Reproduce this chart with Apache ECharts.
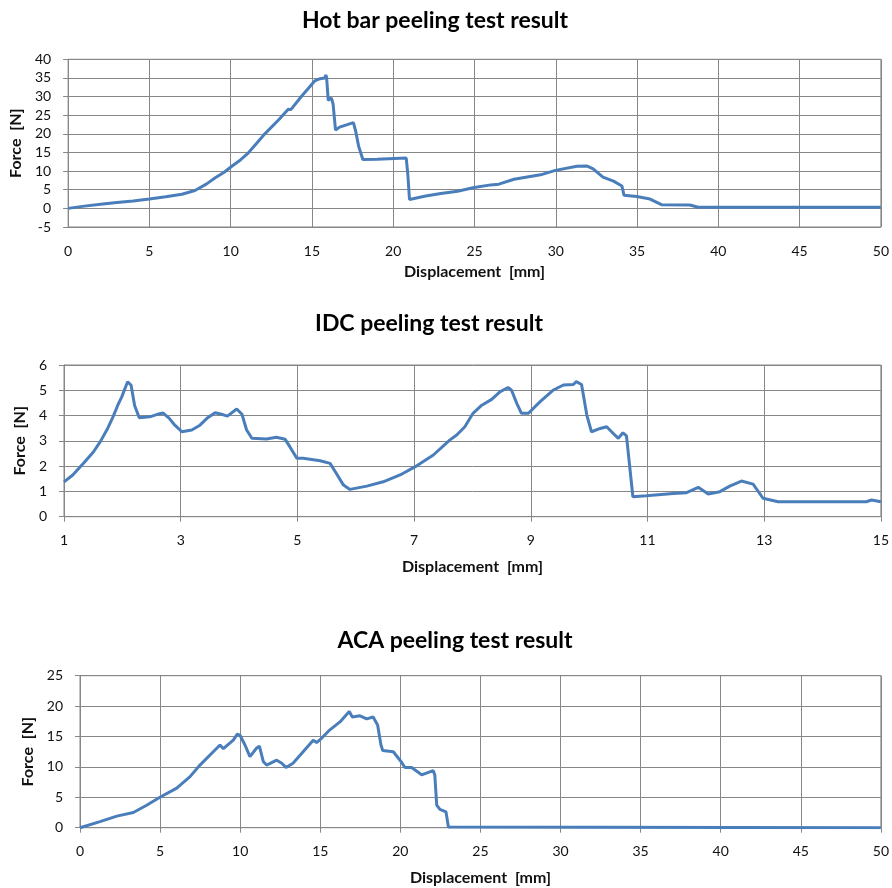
<!DOCTYPE html>
<html>
<head>
<meta charset="utf-8">
<script src="https://cdn.jsdelivr.net/npm/echarts@6/dist/echarts.min.js"></script>
<style>
  html, body { margin: 0; padding: 0; background: #ffffff; }
  #chart { width: 892px; height: 888px; }
</style>
</head>
<body>
<div id="chart"></div>
<script>
// Hot bar peeling test: displacement [mm] vs force [N]
const hotBarX = [0, 1, 2, 3, 4, 5, 6, 7, 7.8, 8.5, 9.05, 9.6, 10.07, 10.6, 11.09, 11.6, 12.1, 13, 13.54, 13.7, 14.36, 15.17, 15.5, 15.79, 15.85, 15.9, 16.0, 16.1, 16.2, 16.3, 16.45, 16.7, 17.55, 17.7, 17.87, 18.13, 19, 20.8, 20.9, 21.0, 22, 22.93, 23.96, 24.98, 26, 26.5, 27.43, 29.06, 29.98, 31.3, 31.9, 32.3, 32.9, 33.55, 34.07, 34.2, 34.98, 35.8, 36.5, 38.25, 38.76, 50];
const hotBarF = [0, 0.6, 1.1, 1.6, 2.0, 2.5, 3.1, 3.8, 4.8, 6.5, 8.2, 9.7, 11.3, 13.0, 14.9, 17.5, 20.0, 24.0, 26.6, 26.5, 30.1, 34.2, 34.8, 35.0, 35.8, 35.2, 29.0, 28.6, 29.6, 28.0, 21.0, 21.8, 23.0, 20.5, 16.7, 13.1, 13.2, 13.5, 9.0, 2.4, 3.3, 4.0, 4.6, 5.6, 6.3, 6.5, 7.8, 9.0, 10.2, 11.3, 11.4, 10.6, 8.4, 7.3, 6.0, 3.5, 3.2, 2.5, 1.0, 0.9, 0.3, 0.3];

// IDC peeling test
const idcX = [1.0, 1.15, 1.33, 1.5, 1.62, 1.75, 1.84, 1.92, 1.99, 2.09, 2.15, 2.21, 2.29, 2.47, 2.6, 2.7, 2.8, 2.9, 3.02, 3.19, 3.33, 3.45, 3.59, 3.7, 3.8, 3.96, 4.05, 4.13, 4.22, 4.47, 4.64, 4.79, 4.87, 4.99, 5.1, 5.39, 5.56, 5.65, 5.79, 5.9, 6.19, 6.47, 6.76, 7.02, 7.33, 7.61, 7.73, 7.87, 8.01, 8.16, 8.33, 8.47, 8.61, 8.67, 8.76, 8.84, 8.96, 9.16, 9.38, 9.56, 9.73, 9.78, 9.87, 9.96, 10.04, 10.19, 10.3, 10.41, 10.5, 10.58, 10.64, 10.75, 10.98, 11.44, 11.67, 11.87, 12.04, 12.24, 12.41, 12.61, 12.81, 12.98, 13.24, 14.75, 14.84, 15.0];
const idcF = [1.38, 1.65, 2.1, 2.55, 2.96, 3.5, 3.95, 4.4, 4.74, 5.34, 5.2, 4.4, 3.91, 3.95, 4.05, 4.1, 3.9, 3.62, 3.36, 3.43, 3.62, 3.89, 4.11, 4.05, 3.98, 4.26, 4.05, 3.43, 3.1, 3.07, 3.14, 3.06, 2.77, 2.31, 2.31, 2.21, 2.11, 1.78, 1.25, 1.08, 1.21, 1.38, 1.65, 1.98, 2.44, 3.03, 3.23, 3.56, 4.09, 4.41, 4.64, 4.94, 5.11, 5.0, 4.48, 4.09, 4.09, 4.55, 5.0, 5.21, 5.23, 5.34, 5.23, 4.02, 3.36, 3.49, 3.56, 3.3, 3.1, 3.32, 3.2, 0.79, 0.83, 0.92, 0.95, 1.16, 0.9, 0.99, 1.21, 1.41, 1.29, 0.73, 0.59, 0.59, 0.66, 0.59];

// ACA peeling test
const acaX = [0, 1.25, 2.3, 3.33, 4.16, 4.99, 6.04, 6.87, 7.49, 8.32, 8.74, 8.95, 9.57, 9.82, 9.99, 10.3, 10.61, 11.03, 11.2, 11.44, 11.65, 12.28, 12.38, 12.6, 12.86, 13.3, 14.56, 14.77, 15.08, 15.6, 16.23, 16.81, 17.0, 17.06, 17.48, 17.9, 18.3, 18.58, 18.79, 18.9, 19.56, 19.98, 20.29, 20.7, 21.33, 22.05, 22.15, 22.27, 22.47, 22.85, 23.0, 50];
const acaF = [0, 1.0, 1.9, 2.5, 3.7, 5.0, 6.5, 8.4, 10.3, 12.5, 13.6, 13.0, 14.4, 15.4, 15.2, 13.6, 11.7, 13.1, 13.4, 10.9, 10.3, 11.1, 11.4, 10.6, 9.9, 10.6, 14.4, 14.0, 14.7, 16.1, 17.4, 19.1, 18.2, 17.9, 18.4, 17.9, 18.2, 16.9, 13.6, 12.7, 12.5, 11.1, 9.9, 9.9, 8.7, 9.4, 8.7, 3.7, 3.0, 2.6, 0.1, 0];

const chartTitles = ['Hot bar peeling test result', 'IDC peeling test result', 'ACA peeling test result'];
const xName = 'Displacement  [mm]';
const yName = 'Force  [N]';

const FONT = 'Lato, "Open Sans", sans-serif';
const GRID_COLOR = '#878787';
const LINE_COLOR = '#4a7ebb';

function pairs(xs, ys) {
  return xs.map((x, i) => [x, ys[i]]);
}

// per-panel layout: plot rectangle, axis ranges, name gaps, title anchor
const panels = [
  { grid: { left: 65.7, top: 59.3, width: 816, height: 167.7 },
    x: { min: 0, max: 50, interval: 5 }, y: { min: -5, max: 40, interval: 5 },
    xGap: 36.5, yGap: 37.5, title: { cx: 430, top: 4 }, data: pairs(hotBarX, hotBarF) },
  { grid: { left: 64, top: 365, width: 817, height: 151.7 },
    x: { min: 1, max: 15, interval: 2 }, y: { min: 0, max: 6, interval: 1 },
    xGap: 42, yGap: 30.5, title: { cx: 424, top: 307 }, data: pairs(idcX, idcF) },
  { grid: { left: 80, top: 675.7, width: 801, height: 152 },
    x: { min: 0, max: 50, interval: 5 }, y: { min: 0, max: 25, interval: 5 },
    xGap: 42.5, yGap: 38.5, title: { cx: 450, top: 624 }, data: pairs(acaX, acaF) }
];

const axisCommon = {
  type: 'value',
  axisLine: { show: true, lineStyle: { color: GRID_COLOR, width: 1 } },
  axisTick: { show: true, length: 5, lineStyle: { color: GRID_COLOR, width: 1 } },
  axisLabel: { color: '#111', fontSize: 14, fontFamily: FONT, margin: 17 },
  splitLine: { show: true, lineStyle: { color: GRID_COLOR, width: 1 } },
  nameLocation: 'middle',
  nameTextStyle: { color: '#111', fontSize: 16, fontWeight: 'bold', fontFamily: FONT }
};

const option = {
  backgroundColor: '#ffffff',
  animation: false,
  title: panels.map((p, i) => ({
    text: chartTitles[i],
    left: p.title.cx,
    top: p.title.top,
    textAlign: 'center',
    textStyle: { color: '#000', fontSize: 23, fontWeight: 'bold', fontFamily: FONT }
  })),
  grid: panels.map(p => Object.assign({ show: true, borderColor: GRID_COLOR, borderWidth: 1, containLabel: false }, p.grid)),
  xAxis: panels.map((p, i) => Object.assign({}, axisCommon, {
    gridIndex: i, min: p.x.min, max: p.x.max, interval: p.x.interval,
    name: xName, nameGap: p.xGap
  })),
  yAxis: panels.map((p, i) => Object.assign({}, axisCommon, {
    gridIndex: i, min: p.y.min, max: p.y.max, interval: p.y.interval,
    name: yName, nameGap: p.yGap, nameRotate: 90
  })),
  series: panels.map((p, i) => ({
    type: 'line',
    xAxisIndex: i, yAxisIndex: i,
    data: p.data,
    showSymbol: false,
    smooth: false,
    lineStyle: { color: LINE_COLOR, width: 3 },
    itemStyle: { color: LINE_COLOR }
  }))
};

const chart = echarts.init(document.getElementById('chart'), null, { renderer: 'canvas' });
chart.setOption(option);
</script>
</body>
</html>
